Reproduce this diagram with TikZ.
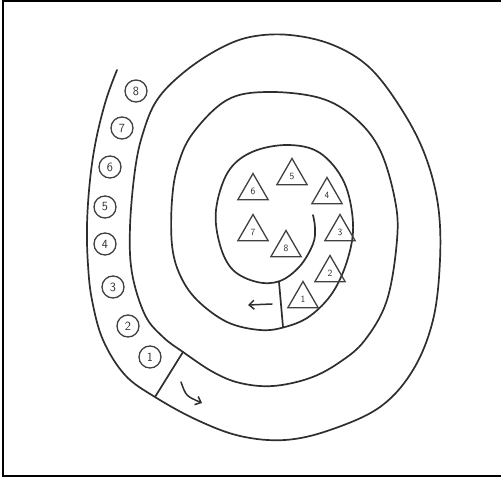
\documentclass[tikz,border=0pt]{standalone}
\usetikzlibrary{shapes.geometric,arrows.meta}
\begin{document}
\begin{tikzpicture}[x=1pt,y=-1pt,
  ink/.style={draw=black!82, line width=1.7pt, line cap=round, line join=round},
  numcirc/.style={circle, draw=black!75, line width=1.3pt, minimum size=22pt, inner sep=0pt, font=\sffamily\fontsize{12.5}{12.5}\selectfont, text=black!82},
  numtri/.style={regular polygon, regular polygon sides=3, draw=black!75, line width=1.3pt, minimum size=35pt, inner sep=0pt, font=\sffamily\fontsize{9.5}{9.5}\selectfont, text=black!82},
  frameline/.style={draw=black, line width=2pt},
  hint/.style={draw=black!82, line width=1.5pt, line cap=round, -{Straight Barb[length=5pt,width=9pt]}}]
\useasboundingbox (0,0) rectangle (501,481);
% frame
\draw[frameline] (501,1) -- (3,1) -- (3,476) -- (501,476);
% spiral corridor
\draw[ink] plot[smooth, tension=0.6] coordinates {
 (117,70) (106,100) (96,140) (90,180) (87,225) (88,265) (92,300) (103,340)
 (125,375) (155,397) (197,420) (240,436) (285,440) (330,430) (380,407)
 (413,370) (433,320) (440,260) (438,205) (425,155) (402,110) (370,68)
 (333,45) (290,35) (250,37) (217,50) (183,73) (157,100) (143,133) (135,170)
 (130,227) (132,273) (145,315) (163,337) (183,352) (213,372) (240,383)
 (273,386) (310,378) (340,362) (365,340) (387,300) (397,240) (395,200)
 (380,150) (355,118) (320,98) (267,92) (227,100) (193,133) (178,165)
 (172,200) (172,245) (180,275) (197,300) (227,322) (260,330) (285,327)
 (310,316) (333,292) (348,258) (353,223) (344,182) (320,153) (288,145)
 (252,152) (228,172) (216,210) (220,245) (233,270) (257,282) (280,281)
 (300,266) (313,244) (315,228) (313,215)};
% doors
\coordinate (d1a) at (155,397); \coordinate (d1b) at (183,352);
\draw[ink] (d1a) -- (d1b);
\coordinate (d2a) at (279,282); \coordinate (d2b) at (283,327);
\draw[ink] (d2a) -- (d2b);
% arrows
\coordinate (a1s) at (272,304); \coordinate (a1e) at (248,305);
\draw[hint] (a1s) -- (a1e);
\coordinate (a2s) at (181,382); \coordinate (a2e) at (202,403);
\draw[hint] (a2s) .. controls (186,396) .. (a2e);
% numbered circles
\node[numcirc] (c8) at (136,91) {8};
\node[numcirc] (c7) at (122,128) {7};
\node[numcirc] (c6) at (110,167) {6};
\node[numcirc] (c5) at (105,207) {5};
\node[numcirc] (c4) at (105,244) {4};
\node[numcirc] (c3) at (113,287) {3};
\node[numcirc] (c2) at (128,326) {2};
\node[numcirc] (c1) at (150,357) {1};
% numbered triangles
\node[numtri] (t6) at (253,191) {6};
\node[numtri] (t5) at (292,176) {5};
\node[numtri] (t4) at (327,195) {4};
\node[numtri] (t3) at (340,232) {3};
\node[numtri] (t2) at (330,273) {2};
\node[numtri] (t1) at (303,299) {1};
\node[numtri] (t7) at (253,232) {7};
\node[numtri] (t8) at (286,248) {8};
\end{tikzpicture}
\end{document}
